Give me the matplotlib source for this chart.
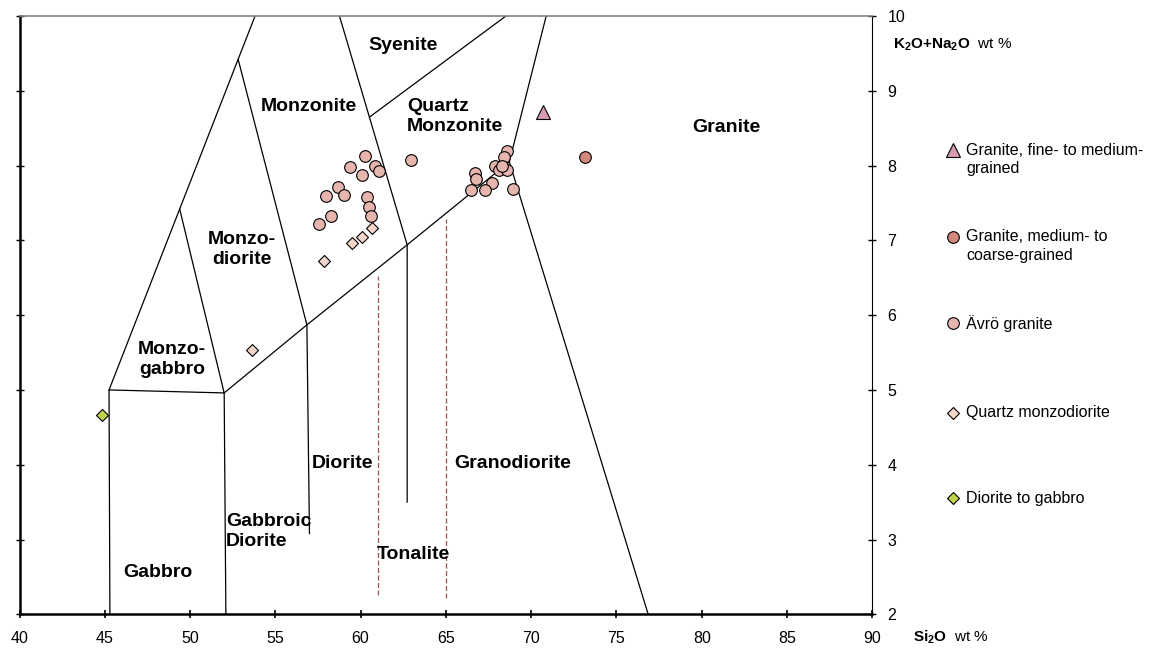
import matplotlib
matplotlib.use("Agg")
import matplotlib.pyplot as plt

plt.rcParams["font.family"] = ["Liberation Sans", "DejaVu Sans"]
plt.rcParams["mathtext.fontset"] = "custom"
plt.rcParams["mathtext.rm"] = "Liberation Sans"
plt.rcParams["mathtext.bf"] = "Liberation Sans:bold"

# --- sample data (SiO2, K2O+Na2O wt %) ---
avro_sio2 = [60.26, 59.38, 60.85, 61.08, 60.07, 62.94, 58.70, 57.96, 59.03, 60.36,
             60.50, 60.62, 58.25, 57.57,
             68.57, 68.38, 67.85, 68.14, 68.57, 66.72, 66.78, 67.69, 66.46, 67.30,
             68.96, 68.30]
avro_alk = [8.13, 7.98, 7.99, 7.93, 7.87, 8.08, 7.72, 7.59, 7.60, 7.58,
            7.45, 7.33, 7.32, 7.22,
            8.19, 8.12, 7.99, 7.94, 7.94, 7.90, 7.82, 7.77, 7.67, 7.68,
            7.69, 8.00]
gran_mc_sio2 = [73.17]
gran_mc_alk = [8.12]
gran_fm_sio2 = [70.72]
gran_fm_alk = [8.71]
qmd_sio2 = [60.66, 60.07, 59.48, 57.88, 53.65]
qmd_alk = [7.16, 7.04, 6.96, 6.73, 5.53]
dg_sio2 = [44.84]
dg_alk = [4.67]

# --- classification field boundaries (polylines) ---
boundaries = [
    ([45.25, 53.81], [5.0, 10.0]),                  # outer left
    ([45.3, 45.25, 52.0, 52.1], [2.0, 5.0, 4.96, 2.0]),  # gabbro box
    ([49.39, 52.0], [7.42, 4.96]),                  # monzogabbro / monzodiorite
    ([52.82, 56.85, 57.0], [9.42, 5.87, 3.08]),     # monzodiorite / monzonite / diorite
    ([52.0, 56.85, 62.73, 68.72], [4.96, 5.87, 6.94, 8.05]),  # quartz line
    ([58.76, 62.73, 62.73], [10.0, 6.94, 3.5]),     # monzonite / quartz monzonite
    ([60.53, 68.52], [8.65, 10.0]),                 # syenite / quartz monzonite
    ([70.88, 68.72, 76.86], [10.0, 8.05, 2.0]),     # granite
]
dashed_x = [61.0, 65.0]
dashed_top = [6.52, 7.28]
dashed_bottom = [2.26, 2.22]

field_labels = [
    ("Syenite", 62.5, 9.60, "center"),
    ("Monzonite", 56.98, 8.79, "center"),
    ("Quartz\nMonzonite", 62.71, 8.655, "left"),
    ("Granite", 81.44, 8.51, "center"),
    ("Monzo-\ndiorite", 53.05, 6.875, "center"),
    ("Monzo-\ngabbro", 48.94, 5.405, "center"),
    ("Diorite", 58.96, 4.02, "center"),
    ("Gabbroic\nDiorite", 52.11, 3.105, "left"),
    ("Gabbro", 48.09, 2.56, "center"),
    ("Tonalite", 63.11, 2.80, "center"),
    ("Granodiorite", 68.90, 4.02, "center"),
]

W, H = 1151, 650
fig = plt.figure(figsize=(W / 100, H / 100), dpi=100)
ax = fig.add_axes([19.5 / W, 1 - 614.3 / H, (872.3 - 19.5) / W, (614.3 - 16) / H])

for xs, ys in boundaries:
    ax.plot(xs, ys, color="black", lw=0.9, zorder=2)
for x, top, bot in zip(dashed_x, dashed_top, dashed_bottom):
    ax.plot([x, x], [bot, top], color="#9c5252", lw=0.9, ls=(0, (4, 2)), zorder=2)

for text, x, y, ha in field_labels:
    ax.text(x, y, text, ha=ha, va="center", fontsize=14, fontweight="bold",
            linespacing=1.25, zorder=3)

series = [
    (gran_fm_sio2, gran_fm_alk, "^", 9.5, "#d79bb4", ["Granite, fine- to medium-", "grained"]),
    (gran_mc_sio2, gran_mc_alk, "o", 8.4, "#d4877b", ["Granite, medium- to", "coarse-grained"]),
    (avro_sio2, avro_alk, "o", 8.4, "#e6b5ad", ["Ävrö granite"]),
    (qmd_sio2, qmd_alk, "D", 6.3, "#f3d5ca", ["Quartz monzodiorite"]),
    (dg_sio2, dg_alk, "D", 6.3, "#c2d24a", ["Diorite to gabbro"]),
]
for xs, ys, m, ms, c, _ in series:
    ax.plot(xs, ys, ls="none", marker=m, ms=ms, mfc=c, mec="black", mew=0.8,
            zorder=4, clip_on=False)

ax.set_xlim(40, 90)
ax.set_ylim(2, 10)
ax.set_xticks(range(40, 91, 5))
ax.set_yticks(range(2, 11))
ax.tick_params(axis="x", direction="inout", length=6, width=1.2, pad=9, labelsize=11.5)
ax.tick_params(axis="y", direction="inout", length=6, width=1.0, pad=8, labelsize=11.5,
               left=True, right=True, labelleft=False, labelright=True)

ax.spines["left"].set_linewidth(1.8)
ax.spines["bottom"].set_linewidth(1.8)
ax.spines["top"].set_linewidth(1.2)
ax.spines["top"].set_color("#808080")
ax.spines["right"].set_linewidth(0.8)

fig.text(893 / W, 1 - 45 / H, r"$\mathbf{K_2O{+}Na_2O}$  wt %", fontsize=11, va="center")
fig.text(913 / W, 1 - 637 / H, r"$\mathbf{Si_2O}$  wt %", fontsize=11, va="center")

# legend, drawn by hand so the marker sits on the first line of wrapped labels
leg_y = [150, 236.7, 323.3, 412.7, 498.3]
for (xs, ys, m, ms, c, lines), py in zip(series, leg_y):
    ax.plot([953.3 / W], [1 - py / H], transform=fig.transFigure, ls="none", marker=m,
            ms=ms, mfc=c, mec="black", mew=0.8, clip_on=False)
    for i, line in enumerate(lines):
        fig.text(966 / W, 1 - (py + i * 18.5) / H, line, fontsize=11.5, va="center")

fig.savefig("out.png", dpi=100)
